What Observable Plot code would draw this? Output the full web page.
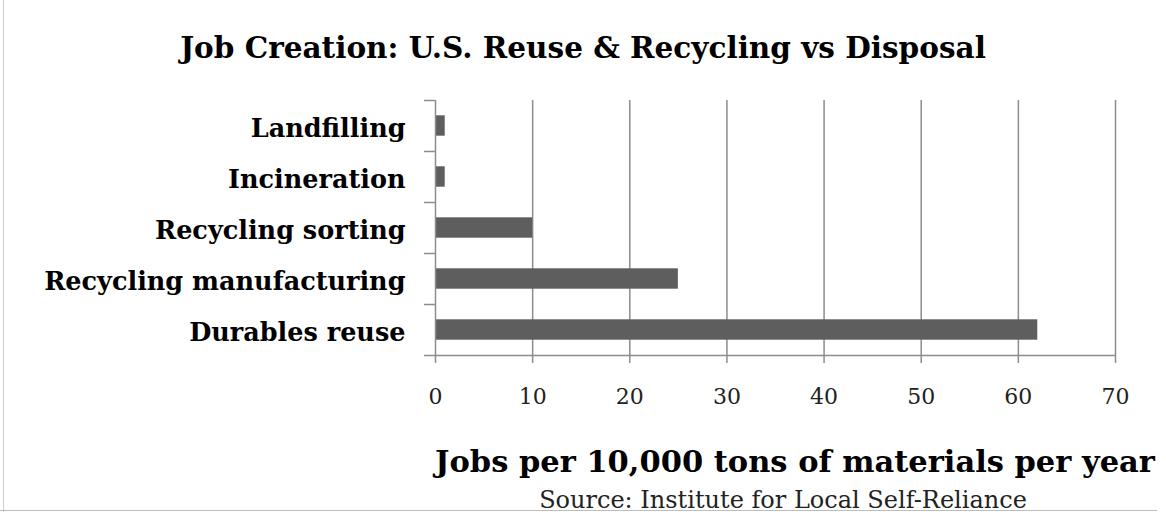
<!DOCTYPE html>
<html>
<head>
<meta charset="utf-8">
<script src="https://cdn.jsdelivr.net/npm/d3@7"></script>
<script src="https://cdn.jsdelivr.net/npm/@observablehq/plot@0.6"></script>
<style>
  html, body { margin: 0; padding: 0; background: #fff; }
  #wrap { position: relative; width: 1166px; height: 516px; overflow: hidden; font-family: "DejaVu Serif", serif; }
  #wrap svg { position: absolute; left: 0; top: 0; }
  .txt { position: absolute; white-space: nowrap; line-height: 1; color: #000; }
  #title { left: 0; width: 1166px; text-align: center; top: 33px; font-size: 29.5px; font-weight: bold; }
  #xtitle { left: 395px; width: 800px; text-align: center; top: 446px; font-size: 30.5px; font-weight: bold; }
  #source { left: 483px; width: 600px; text-align: center; top: 488px; font-size: 24px; color: #222; }
  #lborder { position: absolute; left: 3px; top: 0; width: 1px; height: 512px; background: #cfcfcf; }
  #bborder { position: absolute; left: 0; top: 510px; width: 1157px; height: 1px; background: #bdbdbd; }
</style>
</head>
<body>
<div id="wrap">
  <div id="lborder"></div>
  <div id="bborder"></div>
  <div id="chart"></div>
  <div class="txt" id="title">Job Creation: U.S. Reuse &amp; Recycling vs Disposal</div>
  <div class="txt" id="xtitle">Jobs per 10,000 tons of materials per year</div>
  <div class="txt" id="source">Source: Institute for Local Self-Reliance</div>
</div>
<script>
// Data (top to bottom as drawn)
const categories = ["Landfilling", "Incineration", "Recycling sorting", "Recycling manufacturing", "Durables reuse"];
const jobs = [1, 1, 10, 25, 62];
const xTicks = [0, 10, 20, 30, 40, 50, 60, 70];
const gridTicks = [10, 20, 30, 40, 50, 60, 70];

const data = categories.map((c, i) => ({category: c, index: i, value: jobs[i]}));
const boundaries = d3.range(categories.length + 1);
const centers = categories.map((c, i) => i + 0.5);

const gridColor = "#8c8c8c";
const chart = Plot.plot({
  width: 1166,
  height: 516,
  marginTop: 100,
  marginBottom: 161,
  marginLeft: 435,
  marginRight: 51,
  style: {fontFamily: "DejaVu Serif, serif", background: "transparent", overflow: "visible"},
  x: {domain: [0, 70], label: null},
  y: {domain: [0, categories.length], reverse: true, label: null},
  marks: [
    Plot.ruleX(gridTicks, {stroke: gridColor, strokeWidth: 1.5}),
    Plot.rectX(data, {x1: 0, x2: "value", y1: d => d.index + 0.3, y2: d => d.index + 0.7, fill: "#5e5e5e"}),
    Plot.ruleX([0], {stroke: gridColor, strokeWidth: 1.5}),
    Plot.ruleY([categories.length], {stroke: gridColor, strokeWidth: 1.5}),
    Plot.axisX({ticks: xTicks, tickSize: 8, tickPadding: 25, stroke: gridColor, strokeWidth: 1.5, strokeOpacity: 1,
      fontSize: 22, fill: "#222", label: null, tickFormat: d => String(d)}),
    Plot.axisY({ticks: boundaries, tickSize: 11, tickFormat: () => "", stroke: gridColor, strokeWidth: 1.5, strokeOpacity: 1, label: null}),
    Plot.axisY({ticks: centers, tickSize: 0, tickPadding: 30, dy: 3, tickFormat: d => categories[Math.round(d - 0.5)],
      fontSize: 25.5, fontWeight: "bold", fill: "#000", label: null})
  ]
});
document.getElementById("chart").appendChild(chart);
</script>
</body>
</html>
